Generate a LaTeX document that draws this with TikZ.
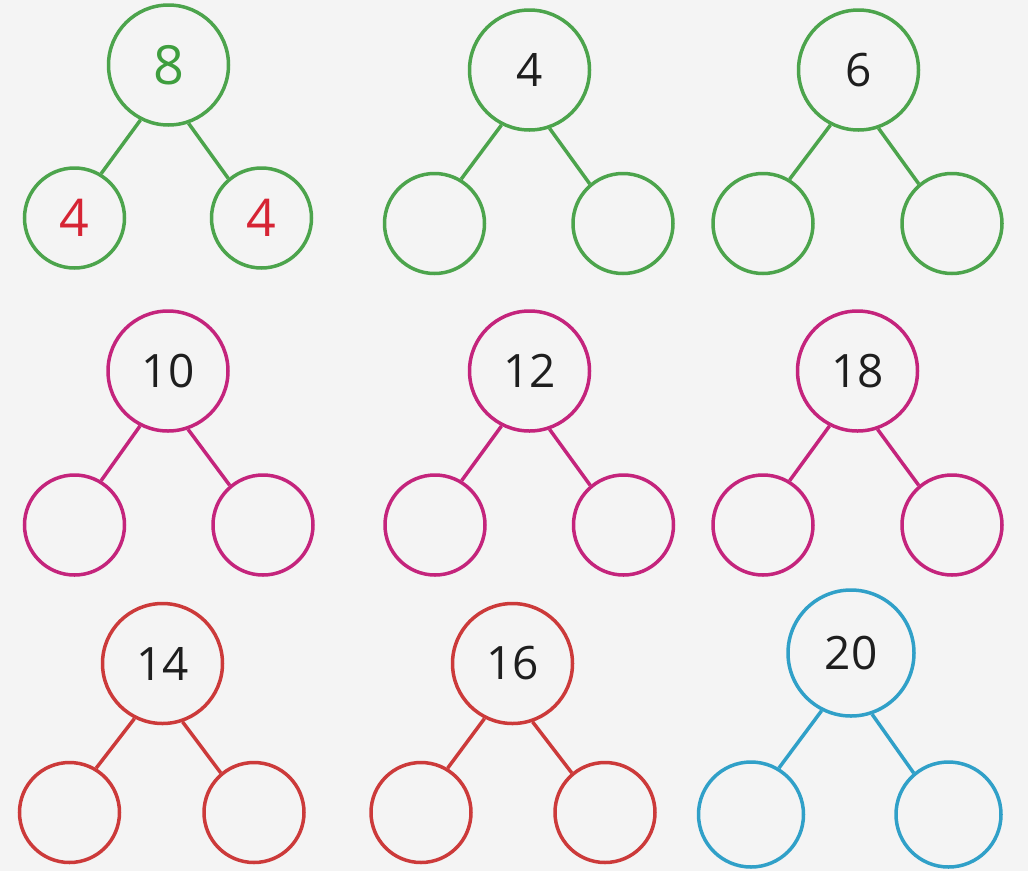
\documentclass[tikz,border=0pt]{standalone}
\usepackage{fontspec}
\setmainfont{Open Sans}
\definecolor{cgreen}{RGB}{76,164,76}
\definecolor{cmag}{RGB}{196,36,124}
\definecolor{cred}{RGB}{204,58,58}
\definecolor{ccyan}{RGB}{48,160,200}
\definecolor{tgreen}{RGB}{62,158,62}
\definecolor{tred}{RGB}{214,36,52}
\definecolor{tblack}{RGB}{30,30,30}
\definecolor{bg}{RGB}{244,244,244}
\begin{document}
\begin{tikzpicture}[x=1pt,y=-1pt,
  rootc/.style={circle,draw=#1,line width=3.5pt,minimum size=120pt,inner sep=0pt,
    text=tblack,font=\fontsize{46}{46}\selectfont},
  leafc/.style={circle,draw=#1,line width=3.5pt,minimum size=100pt,inner sep=0pt,
    font=\fontsize{52}{52}\selectfont},
  linkc/.style={draw=#1,line width=3.5pt}]
\fill[bg] (0,0) rectangle (1028,871);
\useasboundingbox (0,0) rectangle (1028,871);
% Tree 1
\node[rootc=cgreen,text=tgreen,font=\fontsize{54}{54}\selectfont] (r1) at (168.5,65) {8};
\node[leafc=cgreen,text=tred] (a1) at (74.5,218) {4};
\node[leafc=cgreen,text=tred] (b1) at (261.5,218) {4};
\draw[linkc=cgreen] (r1.-117) -- (a1.59);
\draw[linkc=cgreen] (r1.-71) -- (b1.130);
% Tree 2
\node[rootc=cgreen] (r2) at (529.5,70) {4};
\node[leafc=cgreen] (a2) at (434.5,223.5) {};
\node[leafc=cgreen] (b2) at (623,223.5) {};
\draw[linkc=cgreen] (r2.-117) -- (a2.59);
\draw[linkc=cgreen] (r2.-71) -- (b2.130);
% Tree 3
\node[rootc=cgreen] (r3) at (858.5,70) {6};
\node[leafc=cgreen] (a3) at (763,223.5) {};
\node[leafc=cgreen] (b3) at (952,223.5) {};
\draw[linkc=cgreen] (r3.-117) -- (a3.59);
\draw[linkc=cgreen] (r3.-71) -- (b3.130);
% Tree 4
\node[rootc=cmag] (r4) at (168,371) {10};
\node[leafc=cmag] (a4) at (74.5,525) {};
\node[leafc=cmag] (b4) at (263,525) {};
\draw[linkc=cmag] (r4.-117) -- (a4.59);
\draw[linkc=cmag] (r4.-71) -- (b4.130);
% Tree 5
\node[rootc=cmag] (r5) at (529.5,371) {12};
\node[leafc=cmag] (a5) at (435,525) {};
\node[leafc=cmag] (b5) at (623.5,525) {};
\draw[linkc=cmag] (r5.-117) -- (a5.59);
\draw[linkc=cmag] (r5.-71) -- (b5.130);
% Tree 6
\node[rootc=cmag] (r6) at (857.5,371) {18};
\node[leafc=cmag] (a6) at (763,525) {};
\node[leafc=cmag] (b6) at (952,525) {};
\draw[linkc=cmag] (r6.-117) -- (a6.59);
\draw[linkc=cmag] (r6.-71) -- (b6.130);
% Tree 7
\node[rootc=cred] (r7) at (162.5,663.5) {14};
\node[leafc=cred] (a7) at (69.5,812.5) {};
\node[leafc=cred] (b7) at (254,812.5) {};
\draw[linkc=cred] (r7.-117) -- (a7.59);
\draw[linkc=cred] (r7.-71) -- (b7.130);
% Tree 8
\node[rootc=cred] (r8) at (512.5,663.5) {16};
\node[leafc=cred] (a8) at (421,812.5) {};
\node[leafc=cred] (b8) at (605,812.5) {};
\draw[linkc=cred] (r8.-117) -- (a8.59);
\draw[linkc=cred] (r8.-71) -- (b8.130);
% Tree 9
\node[rootc=ccyan,minimum size=126pt] (r9) at (851,653) {20};
\node[leafc=ccyan,minimum size=105pt] (a9) at (751,814.5) {};
\node[leafc=ccyan,minimum size=105pt] (b9) at (948.5,814.5) {};
\draw[linkc=ccyan] (r9.-117) -- (a9.59);
\draw[linkc=ccyan] (r9.-71) -- (b9.130);
\end{tikzpicture}
\end{document}
